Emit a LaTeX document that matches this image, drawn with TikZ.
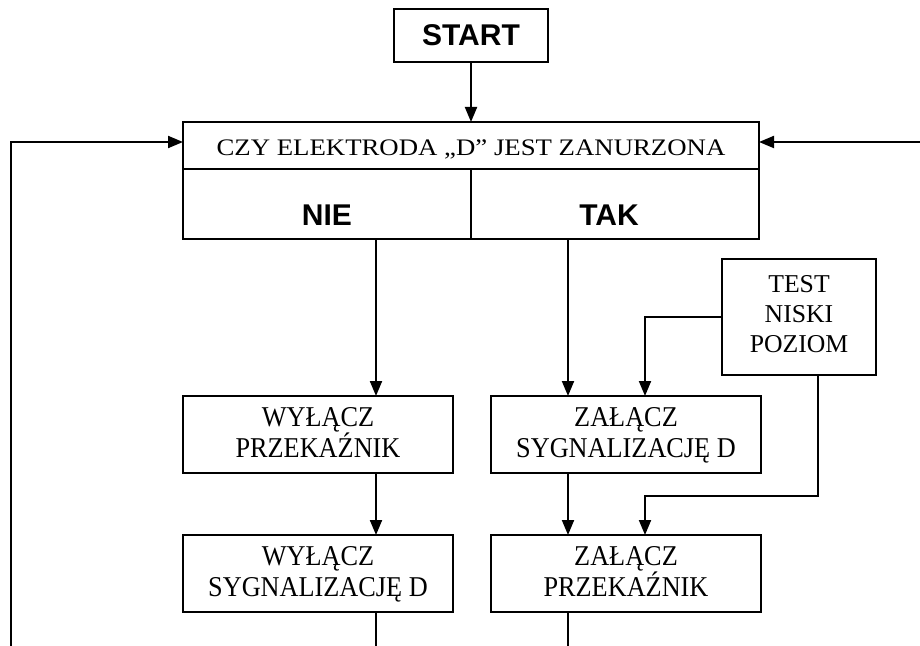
\documentclass[tikz,border=0pt]{standalone}
\usepackage{fontspec}
\setmainfont{Liberation Serif}
\newfontfamily\narrowserif{Liberation Serif}[FakeStretch=0.915]
\newfontfamily\wideserif{Liberation Serif}[FakeStretch=1.13]
\newfontfamily\headfont{Liberation Sans}
\usetikzlibrary{positioning, arrows.meta}

\begin{document}
\begin{tikzpicture}[x=0.5pt, y=-0.5pt, >={Triangle[length=7.5pt, width=6pt]}, line width=1pt,
    box/.style={draw, rectangle, inner sep=0pt, outer sep=0pt, align=center},
    head/.style={font=\headfont\bfseries\fontsize{15}{18}\selectfont},
    act/.style={box, minimum width=135pt, minimum height=38.5pt, text depth=1.8pt,
        font=\narrowserif\fontsize{14.35}{15.5}\selectfont},
    cell/.style={box, minimum width=144pt, minimum height=35pt}]
    \useasboundingbox (0,0) rectangle (920,646);
    \node[box, head, minimum width=77pt, minimum height=26.5pt] (start) at (471,35.5) {START};
    \node[box, minimum width=288pt, minimum height=23.5pt, text height=9.7pt, text depth=0pt,
        font=\wideserif\fontsize{11.85}{14}\selectfont] (czy) at (471,145.5) {CZY ELEKTRODA „D” JEST ZANURZONA};
    \node[cell, label={[head, yshift=-5.5pt]center:NIE}] (nie) [below right=0pt of czy.south west] {};
    \node[cell, label={[head, yshift=-5.5pt, xshift=-3pt]center:TAK}] (tak) [below left=0pt of czy.south east] {};
    \node[box, minimum width=77pt, minimum height=58pt, text depth=3.5pt,
        font=\fontsize{12.85}{15}\selectfont] (test) at (799,317) {TEST\\NISKI\\POZIOM};
    \node[act] (wp) at (318,434.5) {WYŁĄCZ\\PRZEKAŹNIK};
    \node[act] (zs) [right=19pt of wp] {ZAŁĄCZ\\SYGNALIZACJĘ D};
    \node[act] (ws) [below=31pt of wp] {WYŁĄCZ\\SYGNALIZACJĘ D};
    \node[act] (zp) [below=31pt of zs] {ZAŁĄCZ\\PRZEKAŹNIK};
    % helper points
    \coordinate (lx) at (376,646);
    \coordinate (rx) at (568,646);
    \coordinate (tx) at (645,0);
    \coordinate (bx) at (818,496);
    \coordinate (ll) at (11,646);
    \coordinate (rr) at (920,142);
    \draw[->] (start) -- (czy);
    \draw[->] (nie.south -| lx) -- (wp.north -| lx);
    \draw[->] (tak.south -| rx) -- (zs.north -| rx);
    \draw[->] (wp.south -| lx) -- (ws.north -| lx);
    \draw[->] (zs.south -| rx) -- (zp.north -| rx);
    \draw[->] (test.west) -| (zs.north -| tx);
    \draw[->] (test.south -| bx) -- (bx) -| (zp.north -| tx);
    \draw (ws.south -| lx) -- (lx);
    \draw (zp.south -| rx) -- (rx);
    % loops back to the test
    \draw[->] (ll) |- (czy.west |- rr);
    \draw[->] (rr) -- (czy.east |- rr);
\end{tikzpicture}
\end{document}
